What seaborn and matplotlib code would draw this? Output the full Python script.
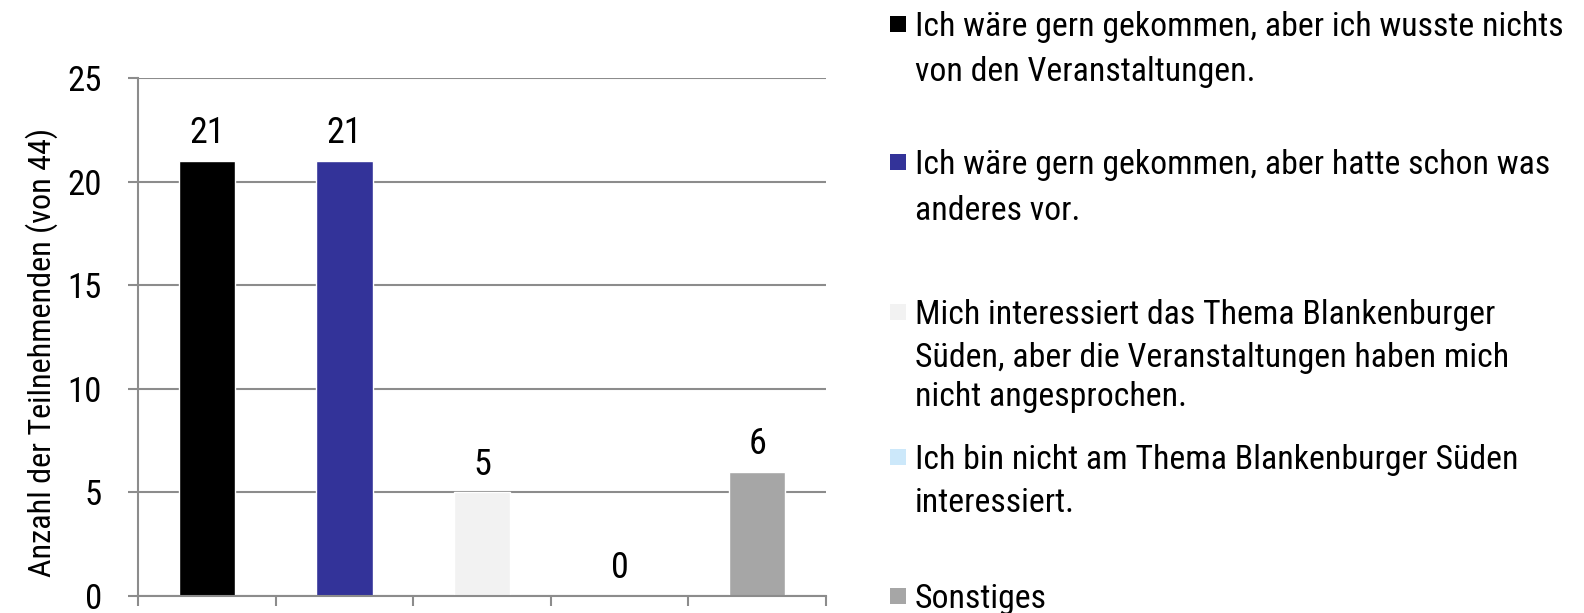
import matplotlib
matplotlib.use("Agg")
import matplotlib.pyplot as plt
import seaborn as sns
import pandas as pd
from matplotlib.patches import Rectangle

categories = [
    "Ich wäre gern gekommen, aber ich wusste nichts\nvon den Veranstaltungen.",
    "Ich wäre gern gekommen, aber hatte schon was\nanderes vor.",
    "Mich interessiert das Thema Blankenburger\nSüden, aber die Veranstaltungen haben mich\nnicht angesprochen.",
    "Ich bin nicht am Thema Blankenburger Süden\ninteressiert.",
    "Sonstiges",
]
values = [21, 21, 5, 0, 6]
colors = ["#000000", "#333399", "#F2F2F2", "#CCE8FA", "#A6A6A6"]
yticks = [0, 5, 10, 15, 20, 25]
ylabel = "Anzahl der Teilnehmenden (von 44)"

sns.set_theme(style="white")
plt.rcParams["font.family"] = ["Roboto Condensed", "DejaVu Sans"]

FS_NUM = 26
FS_TICK = 25
FS_LEG = 24.3
FS_YLAB = 23.2
fig = plt.figure(figsize=(15.84, 6.13), dpi=100)
W, H = 1584, 613
ax = fig.add_axes([138 / W, 1 - 596 / H, (826 - 138) / W, (596 - 78) / H])

df = pd.DataFrame({"cat": categories, "val": values})
sns.barplot(data=df, x="cat", y="val", hue="cat", palette=colors,
            order=categories, hue_order=categories, legend=False,
            width=0.41, ax=ax, saturation=1)

for c in ax.containers:
    ax.bar_label(c, fmt="%d", padding=7, fontsize=FS_NUM, color="black")

ax.set_ylim(0, 25)
ax.set_yticks(yticks)
ax.set_yticklabels([str(t) for t in yticks], fontsize=FS_TICK)
ax.set_xlim(-0.5, len(categories) - 0.5)
ax.set_xticks([i - 0.5 for i in range(len(categories) + 1)])
ax.set_xticklabels([])
ax.set_xlabel("")
ax.set_ylabel("")
grid_c = "#8C8C8C"
ax.yaxis.grid(True, color=grid_c, linewidth=1.5)
ax.set_axisbelow(True)
for s in ["top", "right"]:
    ax.spines[s].set_visible(False)
for s in ["left", "bottom"]:
    ax.spines[s].set_color(grid_c)
    ax.spines[s].set_linewidth(1.5)
ax.tick_params(axis="y", length=7, width=1.5, color=grid_c, pad=19, left=True,
               labelcolor="black")
ax.tick_params(axis="x", length=7, width=1.5, color=grid_c, bottom=True)

fig.text(42 / W, 1 - 352 / H, ylabel, rotation=90, fontsize=FS_YLAB,
         ha="center", va="center", color="black")

# legend (marker + wrapped label lines)
line_centers = [[24, 69], [162, 208], [312, 355, 394], [457, 500], [596]]
for lab, col, cys in zip(categories, colors, line_centers):
    cy = cys[0]
    fig.patches.append(Rectangle((890 / W, 1 - (cy + 8) / H), 16 / W, 16 / H,
                                 transform=fig.transFigure, facecolor=col,
                                 edgecolor="none"))
    for line, ly in zip(lab.split("\n"), cys):
        fig.text(915 / W, 1 - (ly + 12) / H, line, fontsize=FS_LEG, ha="left",
                 va="baseline", color="black")

fig.savefig("out.png", dpi=100)
